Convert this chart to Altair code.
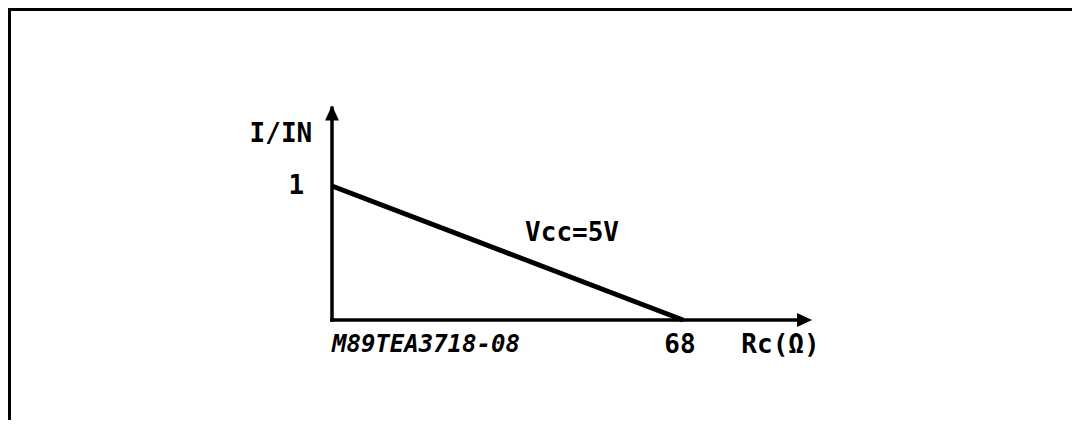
import altair as alt
import pandas as pd

# curve data: I/IN versus Rc at Vcc = 5V
rc_values = [0, 68]
i_ratio = [1.0, 0.0]

# axis extents (data units) and arrow tips
x_axis_end = 93.0
y_axis_end = 1.6

# annotation texts
label_text = ["I/IN", "1", "Vcc=5V", "68", "Rc(\u03a9)"]
label_x = [-9.9, -5.4, 46.5, 67.4, 79.3]
label_y = [1.39, 1.0, 0.65, -0.19, -0.19]
label_align = ["center", "right", "center", "center", "left"]

mark_code = "M89TEA3718-08"

W, H = 1064, 412
xs = alt.Scale(domain=[-62.77, 143.36], nice=False, zero=False)
ys = alt.Scale(domain=[-0.746, 2.328], nice=False, zero=False)
noax = None

curve_df = pd.DataFrame({"x": rc_values, "y": i_ratio})
curve = alt.Chart(curve_df).mark_line(color="black", strokeWidth=5, strokeCap="butt").encode(
    x=alt.X("x:Q", scale=xs, axis=noax),
    y=alt.Y("y:Q", scale=ys, axis=noax),
)

axes_df = pd.DataFrame({
    "x": [0, 0], "x2": [x_axis_end - 2, 0],
    "y": [0, 0], "y2": [0, y_axis_end - 0.02],
})
axes = alt.Chart(axes_df).mark_rule(color="black", strokeWidth=3.5, strokeCap="square").encode(
    x=alt.X("x:Q", scale=xs, axis=noax), x2="x2:Q",
    y=alt.Y("y:Q", scale=ys, axis=noax), y2="y2:Q",
)

up_df = pd.DataFrame({"x": [0], "y": [y_axis_end]})
arrow_up = alt.Chart(up_df).mark_point(
    shape="M0,0L0.7,1.5L-0.7,1.5Z", size=400, filled=True, color="black", opacity=1, strokeWidth=0
).encode(x=alt.X("x:Q", scale=xs, axis=noax), y=alt.Y("y:Q", scale=ys, axis=noax))

right_df = pd.DataFrame({"x": [x_axis_end], "y": [0]})
arrow_right = alt.Chart(right_df).mark_point(
    shape="M0,0L-1.5,-0.7L-1.5,0.7Z", size=400, filled=True, color="black", opacity=1, strokeWidth=0
).encode(x=alt.X("x:Q", scale=xs, axis=noax), y=alt.Y("y:Q", scale=ys, axis=noax))

lab_df = pd.DataFrame({"t": label_text, "x": label_x, "y": label_y, "a": label_align})
texts = []
for a in ["center", "right", "left"]:
    texts.append(
        alt.Chart(lab_df[lab_df.a == a]).mark_text(
            font="DejaVu Sans Mono", fontWeight="bold", fontSize=26, align=a, baseline="middle", color="black"
        ).encode(x=alt.X("x:Q", scale=xs, axis=noax), y=alt.Y("y:Q", scale=ys, axis=noax), text="t:N")
    )

code_df = pd.DataFrame({"t": [mark_code], "x": [0.0], "y": [-0.19]})
code_txt = alt.Chart(code_df).mark_text(
    font="DejaVu Sans Mono", fontWeight="bold", fontStyle="italic", fontSize=24,
    align="left", baseline="middle", color="black"
).encode(x=alt.X("x:Q", scale=xs, axis=noax), y=alt.Y("y:Q", scale=ys, axis=noax), text="t:N")

frame_left = alt.Chart(pd.DataFrame({"k": [0]})).mark_rule(color="black", strokeWidth=3).encode(
    x=alt.value(1.5), y=alt.value(0), y2=alt.value(H)
)
frame_top = alt.Chart(pd.DataFrame({"k": [0]})).mark_rule(color="black", strokeWidth=3).encode(
    x=alt.value(0), x2=alt.value(W), y=alt.value(1.5)
)

chart = alt.layer(
    frame_left, frame_top, axes, curve, arrow_up, arrow_right, *texts, code_txt
).properties(
    width=W, height=H, autosize=alt.AutoSizeParams(type="none"), padding=0
).configure_view(stroke=None)

chart.save("out.html", embed_options={"renderer": "svg", "actions": False})
